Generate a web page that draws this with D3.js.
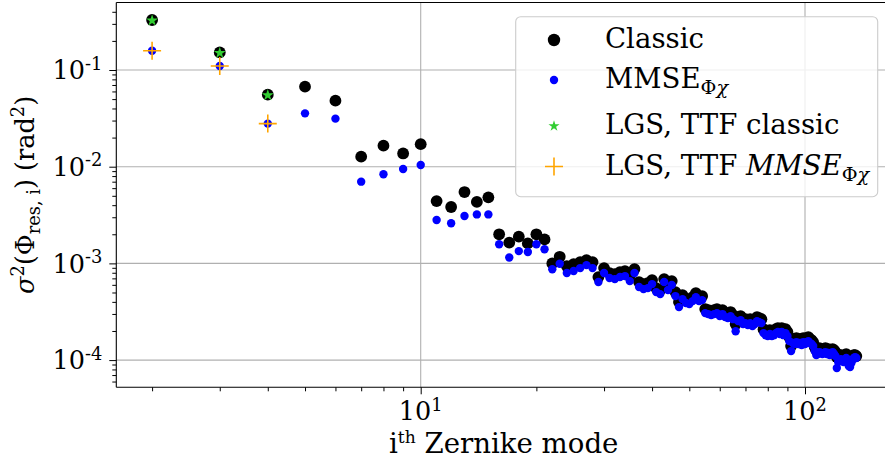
<!DOCTYPE html>
<html><head><meta charset="utf-8">
<script src="https://cdn.jsdelivr.net/npm/d3@7"></script>
<style>body{margin:0;background:#fff}svg{display:block}text{font-family:"DejaVu Serif",serif;fill:#000}</style>
</head><body>
<svg id="c" width="885" height="463" font-family="DejaVu Serif"></svg>
<script>
// ---------------- data ----------------
const modes = d3.range(2, 137); // Zernike mode index i = 2..136
const classic = [
 0.329, 0.152, 0.0556, 0.0673, 0.0482, 0.0127, 0.0165, 0.0137, 0.0171,
 4.41e-3, 3.83e-3, 5.47e-3, 4.32e-3, 4.82e-3, 2.00e-3, 1.64e-3, 1.89e-3, 1.61e-3, 2.00e-3, 1.77e-3, 1.00e-3, 1.17e-3,
 9.38e-4, 9.83e-4, 1.031e-3, 1.082e-3, 1.031e-3, 7.22e-4, 8.94e-4, 7.94e-4, 7.75e-4, 8.13e-4, 8.33e-4, 7.39e-4, 8.73e-4,
 6.41e-4, 6.11e-4, 6.26e-4, 6.72e-4, 5.55e-4, 5.30e-4, 6.88e-4, 5.82e-4, 6.56e-4, 5.05e-4, 3.98e-4, 4.70e-4, 4.27e-4,
 4.17e-4, 4.48e-4, 4.93e-4, 4.48e-4, 4.59e-4, 3.37e-4, 3.29e-4, 3.21e-4, 3.29e-4, 3.37e-4, 3.14e-4, 3.29e-4, 3.06e-4,
 2.99e-4, 3.14e-4, 2.92e-4, 2.36e-4, 2.78e-4, 2.85e-4, 2.59e-4, 2.65e-4, 2.53e-4, 2.65e-4, 2.47e-4, 2.59e-4, 2.78e-4,
 2.72e-4, 2.65e-4, 2.09e-4, 1.99e-4, 1.95e-4, 2.04e-4, 1.95e-4, 1.99e-4, 2.09e-4, 2.14e-4, 2.04e-4, 2.14e-4, 1.99e-4,
 2.09e-4, 1.95e-4, 1.73e-4, 1.396e-4, 1.65e-4, 1.61e-4, 1.69e-4, 1.61e-4, 1.65e-4, 1.57e-4, 1.69e-4, 1.61e-4, 1.69e-4,
 1.73e-4, 1.65e-4, 1.61e-4, 1.535e-4, 1.363e-4, 1.269e-4, 1.300e-4, 1.331e-4, 1.300e-4, 1.269e-4, 1.300e-4, 1.331e-4,
 1.269e-4, 1.300e-4, 1.239e-4, 1.269e-4, 1.300e-4, 1.269e-4, 1.210e-4, 1.074e-4, 1.100e-4, 1.127e-4, 1.127e-4, 1.100e-4,
 1.100e-4, 1.127e-4, 1.154e-4, 1.074e-4, 1.049e-4, 1.024e-4, 1.074e-4, 1.100e-4, 1.127e-4, 1.127e-4, 1.100e-4
];
const mmse = [
 0.158, 0.110, 0.0279, 0.0356, 0.0314, 0.0070, 8.34e-3, 9.46e-3, 0.0104,
 2.81e-3, 2.60e-3, 3.09e-3, 3.21e-3, 3.21e-3, 1.58e-3, 1.15e-3, 1.34e-3, 1.31e-3, 1.58e-3, 1.40e-3, 8.7e-4, 9.9e-4,
 7.94e-4, 8.33e-4, 8.94e-4, 9.60e-4, 8.94e-4, 6.41e-4, 7.94e-4, 7.05e-4, 6.88e-4, 7.22e-4, 7.39e-4, 6.56e-4, 7.94e-4,
 5.69e-4, 5.42e-4, 5.55e-4, 6.11e-4, 5.05e-4, 4.81e-4, 6.41e-4, 5.30e-4, 5.97e-4, 4.59e-4, 3.53e-4, 4.27e-4, 3.89e-4,
 3.80e-4, 4.07e-4, 4.48e-4, 4.07e-4, 4.17e-4, 3.06e-4, 2.99e-4, 2.92e-4, 2.99e-4, 3.06e-4, 2.85e-4, 2.99e-4, 2.78e-4,
 2.72e-4, 2.85e-4, 2.65e-4, 1.99e-4, 2.53e-4, 2.59e-4, 2.36e-4, 2.41e-4, 2.30e-4, 2.41e-4, 2.25e-4, 2.36e-4, 2.53e-4,
 2.47e-4, 2.41e-4, 1.90e-4, 1.81e-4, 1.77e-4, 1.86e-4, 1.77e-4, 1.81e-4, 1.90e-4, 1.95e-4, 1.86e-4, 1.95e-4, 1.81e-4,
 1.90e-4, 1.77e-4, 1.57e-4, 1.239e-4, 1.50e-4, 1.464e-4, 1.535e-4, 1.464e-4, 1.50e-4, 1.43e-4, 1.535e-4, 1.464e-4, 1.535e-4,
 1.57e-4, 1.50e-4, 1.464e-4, 1.396e-4, 1.239e-4, 1.127e-4, 1.154e-4, 1.210e-4, 1.182e-4, 1.154e-4, 1.182e-4, 1.210e-4,
 1.154e-4, 1.182e-4, 1.127e-4, 1.154e-4, 1.210e-4, 1.154e-4, 1.100e-4, 8.27e-5, 9.54e-5, 1.000e-4, 1.024e-4, 9.77e-5,
 9.54e-5, 1.000e-4, 1.049e-4, 9.54e-5, 8.67e-5, 8.47e-5, 9.31e-5, 1.000e-4, 1.049e-4, 1.074e-4, 1.049e-4
];
const lgsModes = [2, 3, 4];
const lgsClassic = [0.329, 0.152, 0.0556];
const lgsMmse = [0.158, 0.110, 0.0279];
const xMajor = [10, 100];
const xMajorExp = ["1", "2"];
const yMajor = [1e-4, 1e-3, 1e-2, 1e-1];
const yMajorExp = ["-4", "-3", "-2", "-1"];

// ---------------- layout ----------------
const L = 116.3, T = 2.5, B = 387.3, DEC_X = 384.3;
const xMin = 1.614, xMax = 167.5;
const R = L + DEC_X * Math.log10(xMax / xMin);
const svg = d3.select("#c");
const x = d3.scaleLog().domain([xMin, xMax]).range([L, R]);
const y = d3.scaleLog().domain([5.23e-5, 0.499]).range([B, T]);

// grid
const g = svg.append("g");
g.selectAll(".gx").data(xMajor).join("line")
  .attr("x1", d => x(d)).attr("x2", d => x(d)).attr("y1", T).attr("y2", B)
  .attr("stroke", "#b0b0b0").attr("stroke-width", 1.1);
g.selectAll(".gy").data(yMajor).join("line")
  .attr("x1", L).attr("x2", R).attr("y1", d => y(d)).attr("y2", d => y(d))
  .attr("stroke", "#b0b0b0").attr("stroke-width", 1.1);

// minor tick values
const xMinor = [2,3,4,5,6,7,8,9,20,30,40,50,60,70,80,90];
const yMinor = [];
[1e-5,1e-4,1e-3,1e-2,1e-1].forEach(b => { for (let k = 2; k <= 9; k++) { const v = b * k; if (v > 5.23e-5 && v < 0.499) yMinor.push(v); } });

function styleAxis(sel) {
  sel.select(".domain").remove();
  sel.selectAll("line").attr("stroke", "#000").attr("stroke-width", 1);
  sel.selectAll("text").remove();
}
svg.append("g").attr("transform", `translate(0,${B})`)
  .call(d3.axisBottom(x).tickValues(xMinor).tickSize(4).tickFormat("")).call(styleAxis);
svg.append("g").attr("transform", `translate(0,${B})`)
  .call(d3.axisBottom(x).tickValues(xMajor).tickSize(7).tickFormat("")).call(styleAxis);
svg.append("g").attr("transform", `translate(${L},0)`)
  .call(d3.axisLeft(y).tickValues(yMinor).tickSize(4).tickFormat("")).call(styleAxis);
svg.append("g").attr("transform", `translate(${L},0)`)
  .call(d3.axisLeft(y).tickValues(yMajor).tickSize(7).tickFormat("")).call(styleAxis);

// tick labels
const TF = 25.5;
yMajor.forEach((v, k) => {
  const t = svg.append("text").attr("x", L - 14).attr("y", y(v) + 9.3)
    .attr("text-anchor", "end").attr("font-size", TF);
  t.append("tspan").text("10");
  t.append("tspan").attr("font-size", TF * 0.7).attr("dy", -9.5).text(yMajorExp[k]);
});
xMajor.forEach((v, k) => {
  const t = svg.append("text").attr("x", x(v)).attr("y", 420)
    .attr("text-anchor", "middle").attr("font-size", TF);
  t.append("tspan").text("10");
  t.append("tspan").attr("font-size", TF * 0.7).attr("dy", -9.5).text(xMajorExp[k]);
});

// data
const clip = svg.append("clipPath").attr("id", "pa").append("rect")
  .attr("x", L).attr("y", T).attr("width", R - L).attr("height", B - T);
const pg = svg.append("g").attr("clip-path", "url(#pa)");
pg.selectAll(".c").data(modes).join("circle")
  .attr("cx", d => x(d)).attr("cy", (d, k) => y(classic[k])).attr("r", 5.9).attr("fill", "#000");
pg.selectAll(".m").data(modes).join("circle")
  .attr("cx", d => x(d)).attr("cy", (d, k) => y(mmse[k])).attr("r", 4.2).attr("fill", "#0000ff");
const star = d3.symbol(d3.symbolStar, 44);
pg.selectAll(".s").data(lgsModes).join("path")
  .attr("d", star).attr("transform", (d, k) => `translate(${x(d)},${y(lgsClassic[k]) + 0.5})`)
  .attr("fill", "#32cd32");
const plusPath = "M-9,0H9M0,-9V9";
pg.selectAll(".p").data(lgsModes).join("path")
  .attr("d", plusPath).attr("transform", (d, k) => `translate(${x(d)},${y(lgsMmse[k])})`)
  .attr("stroke", "#ffa500").attr("stroke-width", 1.6).attr("fill", "none");

// spines
svg.append("line").attr("x1", L).attr("x2", L).attr("y1", T).attr("y2", B).attr("stroke", "#000").attr("stroke-width", 1.1);
svg.append("line").attr("x1", L).attr("x2", R).attr("y1", B).attr("y2", B).attr("stroke", "#000").attr("stroke-width", 1.1);
svg.append("line").attr("x1", L).attr("x2", R).attr("y1", T).attr("y2", T).attr("stroke", "#000").attr("stroke-width", 1.1);
svg.append("line").attr("x1", R).attr("x2", R).attr("y1", T).attr("y2", B).attr("stroke", "#000").attr("stroke-width", 1.1);

// axis labels
const LF = 27.6;
const xl = svg.append("text").attr("x", (L + R) / 2).attr("y", 453).attr("text-anchor", "middle").attr("font-size", LF);
xl.append("tspan").text("i");
xl.append("tspan").attr("font-size", LF * 0.62).attr("dy", -10).text("th");
xl.append("tspan").attr("dy", 10).text(" Zernike mode");

const YF = 25.5;
const yl = svg.append("text").attr("transform", `translate(34,${(T + B) / 2}) rotate(-90)`)
  .attr("text-anchor", "middle").attr("font-size", YF);
yl.append("tspan").attr("font-style", "italic").text("σ");
yl.append("tspan").attr("font-size", YF * 0.7).attr("dy", -10).text("2");
yl.append("tspan").attr("dy", 10).text("(Φ");
yl.append("tspan").attr("font-size", YF * 0.7).attr("dy", 5.5).text("res, i");
yl.append("tspan").attr("dy", -5.5).text(") (rad");
yl.append("tspan").attr("font-size", YF * 0.7).attr("dy", -10).text("2");
yl.append("tspan").attr("dy", 10).text(")");

// legend
const lg = svg.append("g");
lg.append("rect").attr("x", 515.7).attr("y", 16.7).attr("width", 362).attr("height", 180).attr("rx", 5)
  .attr("fill", "#fff").attr("fill-opacity", 0.8).attr("stroke", "#cccccc").attr("stroke-width", 1.1);
const MX = 554, TX = 605;
lg.append("circle").attr("cx", MX).attr("cy", 40).attr("r", 6.2).attr("fill", "#000");
lg.append("circle").attr("cx", MX).attr("cy", 80).attr("r", 4.2).attr("fill", "#0000ff");
lg.append("path").attr("d", d3.symbol(d3.symbolStar, 38)).attr("transform", `translate(${MX},126)`).attr("fill", "#32cd32");
lg.append("path").attr("d", plusPath).attr("transform", `translate(${MX},166.5)`).attr("stroke", "#ffa500").attr("stroke-width", 1.6).attr("fill", "none");

lg.append("text").attr("x", TX).attr("y", 48.3).attr("font-size", LF).text("Classic");
const t2 = lg.append("text").attr("x", TX).attr("y", 88.3).attr("font-size", LF);
t2.append("tspan").text("MMSE");
t2.append("tspan").attr("font-size", LF * 0.7).attr("dy", 6).text("Φ");
t2.append("tspan").attr("font-size", LF * 0.7).attr("font-style", "italic").text("χ");
lg.append("text").attr("x", TX).attr("y", 134.3).attr("font-size", LF).text("LGS, TTF classic");
const t4 = lg.append("text").attr("x", TX).attr("y", 175).attr("font-size", LF);
t4.append("tspan").text("LGS, TTF ");
t4.append("tspan").attr("font-style", "italic").text("MMSE");
t4.append("tspan").attr("font-size", LF * 0.7).attr("dy", 6).text("Φ");
t4.append("tspan").attr("font-size", LF * 0.7).attr("font-style", "italic").text("χ");
</script>
</body></html>
